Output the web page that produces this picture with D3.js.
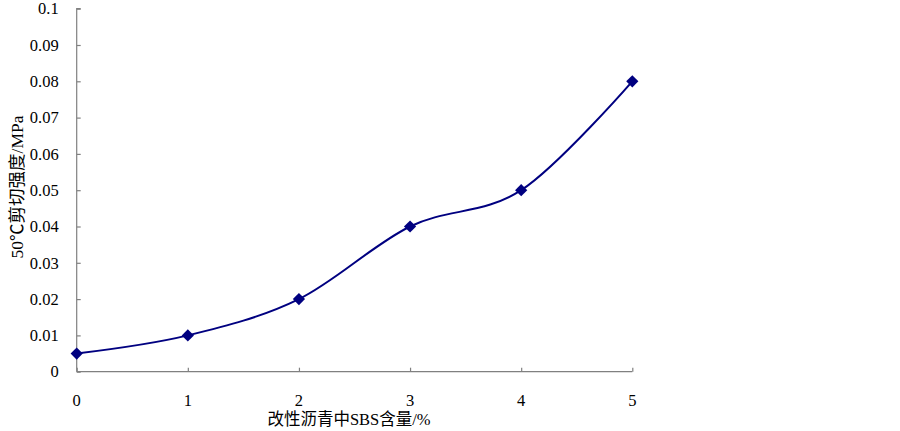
<!DOCTYPE html>
<html>
<head>
<meta charset="utf-8">
<script src="https://cdn.jsdelivr.net/npm/d3@7"></script>
<style>
  body { margin: 0; background: #fff; }
  text { font-family: "Liberation Serif", "Noto Sans CJK SC", serif; fill: #000; }
</style>
</head>
<body>
<svg id="chart" width="900" height="431"></svg>
<script>
const sbsContent = [0, 1, 2, 3, 4, 5]
const shearStrength = [0.005, 0.01, 0.02, 0.04, 0.05, 0.08]
const yTicks = [0, 0.01, 0.02, 0.03, 0.04, 0.05, 0.06, 0.07, 0.08, 0.09, 0.1]
const xTicks = [0, 1, 2, 3, 4, 5]

const svg = d3.select('#chart')
const margin = { left: 76.7, right: 267.7, top: 8.7, bottom: 59.3 }
const width = 900 - margin.left - margin.right
const height = 431 - margin.top - margin.bottom

const g = svg.append('g')
  .attr('transform', `translate(${margin.left},${margin.top})`)

const x = d3.scaleLinear().domain([0, 5]).range([0, width])
const y = d3.scaleLinear().domain([0, 0.1]).range([height, 0])

// y axis, ticks point inward
const yAxis = g.append('g')
  .call(d3.axisRight(y).tickValues(yTicks).tickSize(4).tickFormat(''))
yAxis.selectAll('path, line').attr('stroke', '#808080').attr('stroke-width', 1.2)
yAxis.select('.domain').attr('d', `M4,0H0V${height}`)

g.selectAll('.ylab')
  .data(yTicks)
  .join('text')
  .attr('class', 'ylab')
  .attr('x', -18)
  .attr('y', d => y(d))
  .attr('dy', '0.35em')
  .attr('text-anchor', 'end')
  .attr('font-size', 16.5)
  .text(d => d3.format('')(d))

// x axis
const xAxis = g.append('g')
  .attr('transform', `translate(0,${height})`)
  .call(d3.axisTop(x).tickValues(xTicks).tickSize(4).tickFormat(''))
xAxis.selectAll('path, line').attr('stroke', '#808080').attr('stroke-width', 1.2)
xAxis.select('.domain').attr('d', `M0,0H${width}`)

g.selectAll('.xlab')
  .data(xTicks)
  .join('text')
  .attr('class', 'xlab')
  .attr('x', d => x(d))
  .attr('y', height + 34)
  .attr('text-anchor', 'middle')
  .attr('font-size', 16.5)
  .text(d => d)

// smoothed line, excel style
const line = d3.line()
  .x((d, i) => x(sbsContent[i]))
  .y(d => y(d))
  .curve(d3.curveCardinal.tension(0))

g.append('path')
  .datum(shearStrength)
  .attr('d', line)
  .attr('fill', 'none')
  .attr('stroke', '#000080')
  .attr('stroke-width', 2)

g.selectAll('.marker')
  .data(shearStrength)
  .join('path')
  .attr('class', 'marker')
  .attr('d', d3.symbol().type(d3.symbolDiamond2).size(95))
  .attr('transform', (d, i) => `translate(${x(sbsContent[i])},${y(d)})`)
  .attr('fill', '#000080')

// axis titles
svg.append('text')
  .attr('x', 349)
  .attr('y', 425)
  .attr('text-anchor', 'middle')
  .attr('font-size', 16.5)
  .text('改性沥青中SBS含量/%')

svg.append('text')
  .attr('transform', 'translate(23,187) rotate(-90)')
  .attr('text-anchor', 'middle')
  .attr('font-size', 17.5)
  .text('50℃剪切强度/MPa')
</script>
</body>
</html>
